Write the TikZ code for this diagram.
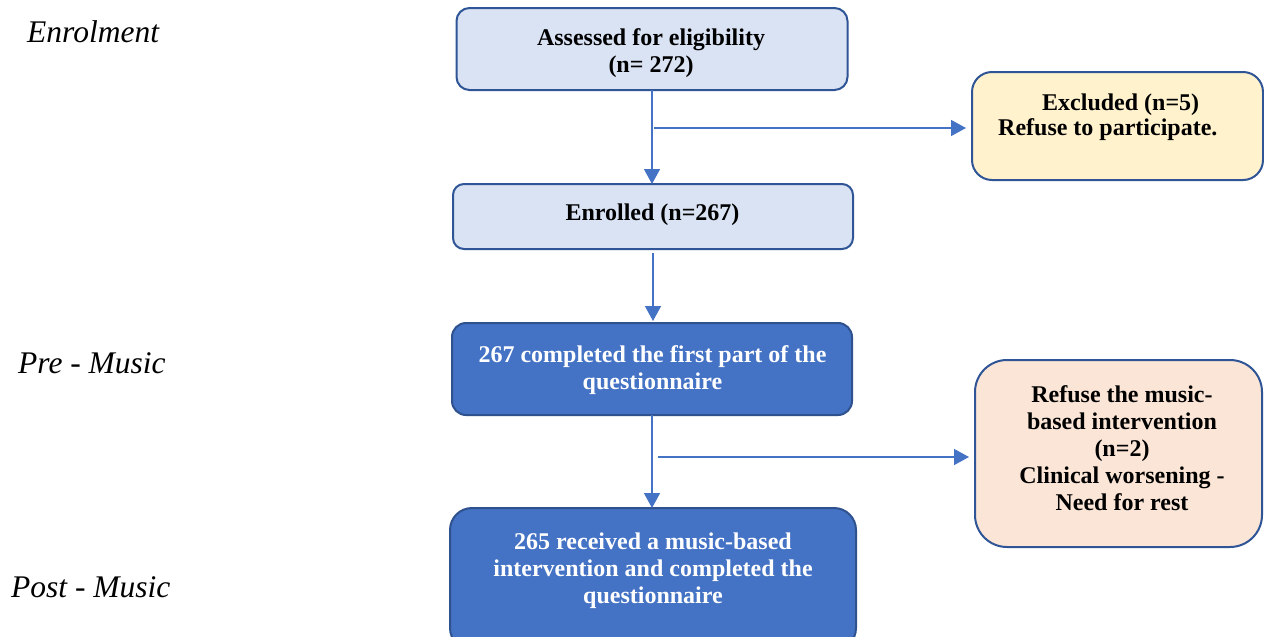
\documentclass[tikz,border=0pt]{standalone}
\usepackage{fontspec}
\setmainfont{Liberation Serif}
\usetikzlibrary{arrows.meta}
\definecolor{lightbluefill}{HTML}{DAE3F3}
\definecolor{boxborder}{HTML}{2F5597}
\definecolor{darkfill}{HTML}{4472C4}
\definecolor{darkborder}{HTML}{2F528F}
\definecolor{yellowfill}{HTML}{FFF2CC}
\definecolor{peachfill}{HTML}{FBE5D6}
\definecolor{arrowblue}{HTML}{4472C4}
\tikzset{
  box/.style={draw=boxborder, line width=2pt, inner sep=0pt, outer sep=0pt},
  lightbox/.style={box, fill=lightbluefill},
  darkbox/.style={box, draw=darkborder, fill=darkfill},
  boxtext/.style={inner sep=0pt, anchor=north, align=center,
    font=\fontsize{24}{27}\selectfont\bfseries},
  phase/.style={inner sep=0pt, anchor=base west,
    font=\fontsize{31.5}{36}\selectfont\itshape},
  conn/.style={draw=arrowblue, line width=1.4pt},
  arr/.style={conn, -{Triangle[width=16pt,length=15pt]}},
}
\begin{document}
\begin{tikzpicture}[x=1pt,y=-1pt]
\clip (0,0) rectangle (1264,637);
\fill[white] (0,0) rectangle (1264,637);

% boxes
\node[lightbox, rounded corners=13pt, minimum width=391pt, minimum height=82pt] (b1) at (652,49) {};
\node[lightbox, rounded corners=11pt, minimum width=400pt, minimum height=65pt] (b2) at (653,216.5) {};
\node[darkbox, rounded corners=14pt, minimum width=400pt, minimum height=92pt] (b3) at (652,369) {};
\node[darkbox, rounded corners=22pt, minimum width=406pt, minimum height=142pt] (b4) at (653,579) {};
\node[box, fill=yellowfill, rounded corners=20pt, minimum width=291pt, minimum height=108pt] (ex) at (1117.5,126) {};
\node[box, fill=peachfill, rounded corners=32pt, minimum width=287pt, minimum height=187pt] (rf) at (1118.5,453.5) {};

% texts
\node[boxtext] (t1) at (651,28.5) {Assessed for eligibility\\(n= 272)};
\node[boxtext] (t2) at (652.5,203.5) {Enrolled (n=267)};
\node[boxtext, text=white] (t3) at (652.5,345.5) {267 completed the first part of the\\questionnaire};
\node[boxtext, text=white] (t4) at (653,532.5) {265 received a music-based\\intervention and completed the\\questionnaire};
\node[boxtext, anchor=north west, align=left, font=\fontsize{24}{25}\selectfont\bfseries] (t5) at (998,93.5) {\hspace*{44pt}Excluded (n=5)\\Refuse to participate.};
\node[boxtext] (t6) at (1122,385.5) {Refuse the music-\\based intervention\\(n=2)\\Clinical worsening -\\Need for rest};

% phase labels
\node[phase] (p1) at (27,42) {Enrolment};
\node[phase] (p2) at (18,373) {Pre - Music};
\node[phase] (p3) at (11,597) {Post - Music};

% connectors
\coordinate (j1) at (654,128);
\coordinate (j2) at (658,457);
\draw[arr] (b1.south) -- (b1.south |- b2.north);
\draw[arr, shorten >=6pt] (j1) -- (j1 -| ex.west);
\draw[arr, shorten <=4pt, shorten >=2pt] (b2.south) -- (b2.south |- b3.north);
\draw[arr] (b3.south) -- (b3.south |- b4.north);
\draw[arr, shorten >=6pt] (j2) -- (j2 -| rf.west);
\end{tikzpicture}
\end{document}
